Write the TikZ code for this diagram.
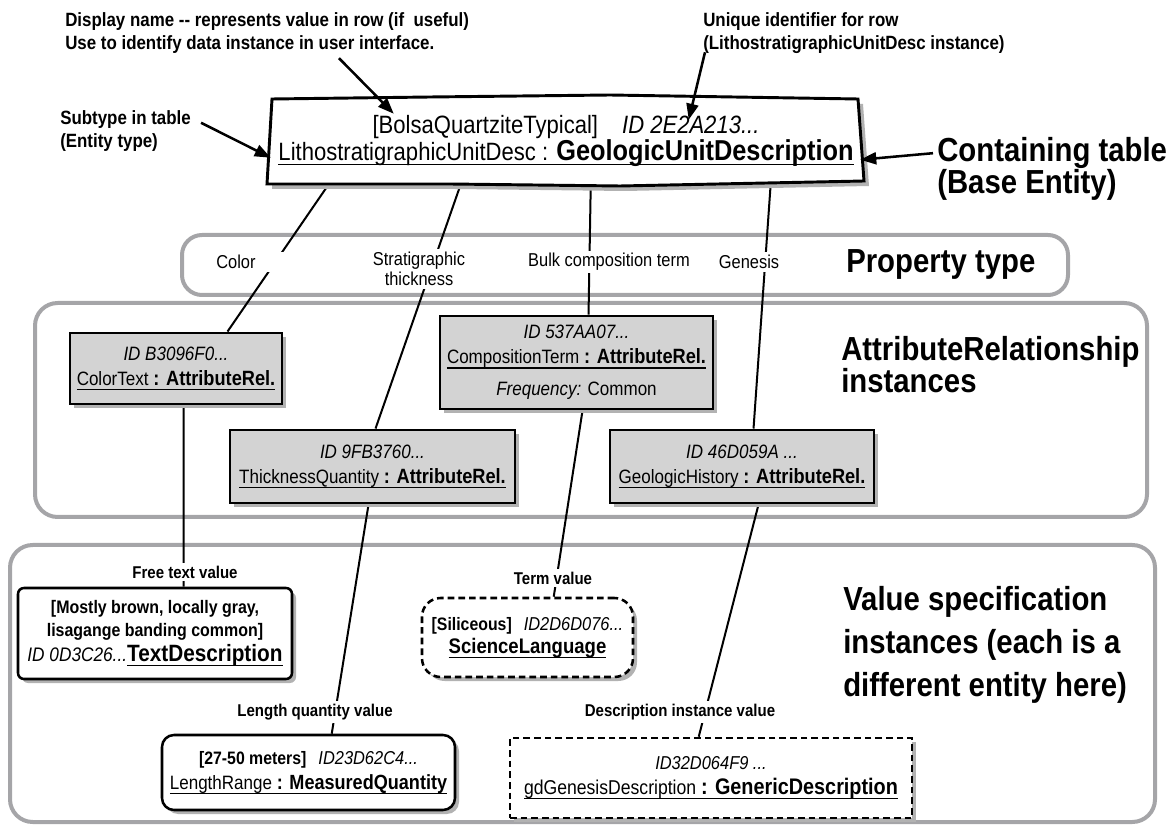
\documentclass[tikz,border=0pt]{standalone}
\usepackage{fontspec}
\setmainfont{Liberation Sans}[FakeStretch=0.88]
\usetikzlibrary{arrows.meta,calc,shadows}

\definecolor{grpgray}{RGB}{165,165,168}
\definecolor{relgray}{RGB}{211,211,211}
\definecolor{shadegray}{RGB}{178,178,178}
\newcommand{\fsz}[2]{\fontsize{#1}{#2}\selectfont}
\newcommand{\undl}[1]{\leavevmode\setbox0\hbox{#1}\rlap{\rule[-3.6pt]{\wd0}{0.9pt}}\box0}

\pgfdeclarelayer{bg}
\pgfsetlayers{bg,main}

\tikzset{every picture/.style={line width=0.75pt}}
\tikzset{
  grpbox/.style={draw=grpgray, line width=3pt, rounded corners=17pt, inner sep=0pt},
  boxshade/.style={drop shadow={shadow xshift=3pt, shadow yshift=-3pt, fill=shadegray, opacity=1}},
  relbox/.style={draw, fill=relgray, line width=2.2pt, align=center, inner sep=0pt, boxshade, font=\fsz{14.5}{18.75}},
  valbox/.style={draw, fill=white, line width=1.9pt, align=center, inner sep=0pt, boxshade},
  dashbox/.style={valbox, dash pattern=on 5pt off 3pt},
  proplbl/.style={fill=white, inner sep=2pt, align=center, font=\fsz{14}{15}},
  vallbl/.style={fill=white, inner sep=2pt, font=\fsz{12.8}{15}\bfseries},
  note/.style={anchor=west, align=left, inner sep=0pt, font=\fsz{14.4}{17.25}\bfseries},
  biglbl/.style={anchor=west, align=left, inner sep=0pt, font=\fsz{25}{24}\bfseries},
  link/.style={line width=1.5pt},
  callout/.style={line width=1.9pt, -{Triangle[length=12pt,width=9pt]}},
}

\begin{document}
\begin{tikzpicture}[x=0.75pt,y=0.75pt,yscale=-1,xscale=1]
\path[use as bounding box] (0,0) rectangle (1172,830);

% Group boxes
\begin{pgfonlayer}{bg}
\node[grpbox, rounded corners=15pt, minimum width=664.5pt, minimum height=45pt] (proptype) at (625,265) {};
\node[grpbox, minimum width=834pt, minimum height=160.5pt] (attrrel) at (591,410) {};
\node[grpbox, minimum width=858.75pt, minimum height=207.75pt] (valspec) at (582.5,683.5) {};
\end{pgfonlayer}

% Containing table row (hand drawn outline)
\fill[shadegray, shift={(5,5)}] (272,99) -- (430,97) -- (610,95) -- (858,99) -- (864,181) -- (620,186) -- (450,184) -- (267,184) -- cycle;
\draw[line width=2.2pt, fill=white] (272,99) -- (430,97) -- (610,95) -- (858,99) -- (864,181) -- (620,186) -- (450,184) -- (267,184) -- cycle;
\node[align=center, inner sep=0pt, minimum width=445.5pt, minimum height=63pt, font=\fsz{18.8}{20.25}] (unit) at (566,141)
  {[BolsaQuartziteTypical]\hspace{18pt}\textit{ID 2E2A213...}\\\undl{LithostratigraphicUnitDesc : {\fsz{21.6}{20.25}\bfseries GeologicUnitDescription}}};

% AttributeRelationship instances
\node[relbox, minimum width=159pt, minimum height=53.25pt] (colorrel) at (176,368.5)
  {\textit{ID B3096F0...}\\\undl{ColorText {\bfseries\fsz{15.5}{18.75}: AttributeRel.}}};
\node[relbox, minimum width=204.75pt, minimum height=69.75pt] (comprel) at (576.5,362.5)
  {\textit{ID 537AA07...}\\\undl{CompositionTerm {\bfseries\fsz{15.5}{18.75}: AttributeRel.}}\\[5.25pt]\textit{Frequency:} Common};
\node[relbox, minimum width=213.75pt, minimum height=54.75pt] (thickrel) at (372.5,466.5)
  {\textit{ID 9FB3760...}\\\undl{ThicknessQuantity {\bfseries\fsz{15.5}{18.75}: AttributeRel.}}};
\node[relbox, minimum width=198pt, minimum height=54.75pt] (genrel) at (742,466.5)
  {\textit{ID 46D059A ...}\\\undl{GeologicHistory {\bfseries\fsz{15.5}{18.75}: AttributeRel.}}};

% Value specification instances
\node[valbox, rounded corners=4.5pt, minimum width=205.5pt, minimum height=68.25pt, font=\fsz{13.6}{17.25}] (textval) at (155,633.5)
  {{\bfseries [Mostly brown, locally gray,}\\{\bfseries lisagange banding common]}\\[1.5pt]{\fsz{14.7}{17.25}\itshape ID 0D3C26...}\undl{\fsz{17.7}{17.25}\bfseries TextDescription}};
\node[dashbox, rounded corners=14pt, minimum width=158.25pt, minimum height=59.25pt, font=\fsz{13.5}{17.25}] (termval) at (527.5,637.5)
  {{\bfseries [Siliceous]}\hspace{9pt}{\fsz{14}{17.25}\itshape ID2D6D076...}\\\undl{\fsz{15.8}{17.25}\bfseries ScienceLanguage}};
\node[valbox, rounded corners=9pt, minimum width=219.75pt, minimum height=56.25pt, font=\fsz{13.5}{18.75}] (lenval) at (308.5,772.5)
  {{\bfseries [27-50 meters]}\hspace{9pt}{\fsz{14}{18.75}\itshape ID23D62C4...}\\\undl{\fsz{14.5}{18.75}LengthRange {\fsz{15.4}{18.75}\bfseries : MeasuredQuantity}}};
\node[dashbox, minimum width=301.5pt, minimum height=60pt, font=\fsz{14}{18.75}] (genval) at (711,778)
  {\textit{ID32D064F9 ...}\\\undl{\fsz{15}{18.75}gdGenesisDescription {\fsz{16.9}{18.75}\bfseries : GenericDescription}}};

% Property type labels
\node[proplbl, text width=55pt, align=left] (colorlbl) at (253,262) {Color};
\node[proplbl] (stratlbl) at (419,269) {Stratigraphic\\thickness};
\node[proplbl] (bulklbl) at (609,262) {Bulk composition term};
\node[proplbl] (genlbl) at (749,262) {Genesis};

% Value labels
\node[vallbl] (freelbl) at (185,572) {Free text value};
\node[vallbl] (termlbl) at (553,578) {Term value};
\node[vallbl] (lenlbl) at (315,712) {Length quantity value};
\node[vallbl] (desclbl) at (680,712) {Description instance value};

% Section titles
\node[biglbl] (contlbl) at (937,169) {Containing table\\(Base Entity)};
\node[biglbl] (ptypelbl) at (846,264) {Property type};
\node[biglbl] (arlbl) at (841,365) {AttributeRelationship\\instances};
\node[biglbl, font=\fsz{25}{32.25}\bfseries] (vslbl) at (843,645) {Value specification\\instances (each is a\\different entity here)};

% Notes
\node[note] (disp) at (65,33.5) {Display name -{}- represents value in row (if\ \ useful)\\Use to identify data instance in user interface.};
\node[note] (uid) at (703,33.5) {Unique identifier for row\\(LithostratigraphicUnitDesc instance)};
\node[note] (subt) at (60,131.5) {Subtype in table\\(Entity type)};

% Callout arrows
\draw[callout] ($(disp.south west)+(274,4)$) -- ($(unit.north west)+(125,15)$);
\draw[callout] ($(uid.south west)+(2,-2)$) -- ($(unit.north west)+(420,21)$);
\draw[callout] ($(subt.north east)+(10,12)$) -- ($(unit.north west)+(2,59)$);
\draw[callout] ($(contlbl.north west)+(-4,16)$) -- ($(unit.north east)+(-3,61)$);

% Connectors
\begin{pgfonlayer}{bg}
\draw[link] ($(unit.south west)+(60,1)$) -- ($(colorrel.north west)+(159,0)$);
\draw[link] ($(unit.south west)+(192,1)$) -- ($(thickrel.north west)+(147,0)$);
\draw[link] ($(unit.south west)+(322,2)$) -- ($(comprel.north west)+(150,0)$);
\draw[link] ($(unit.south west)+(502,0)$) -- ($(genrel.north west)+(145,0)$);
\draw[link] ($(colorrel.south west)+(115,0)$) -- ($(textval.north west)+(167,0)$);
\draw[link] ($(thickrel.south west)+(140,0)$) -- ($(lenval.north west)+(171,0)$);
\draw[link] ($(comprel.south west)+(144,0)$) -- ($(termval.north west)+(133,0)$);
\draw[link] ($(genrel.south west)+(150,0)$) -- ($(genval.north west)+(190,0)$);
\end{pgfonlayer}

\end{tikzpicture}
\end{document}
